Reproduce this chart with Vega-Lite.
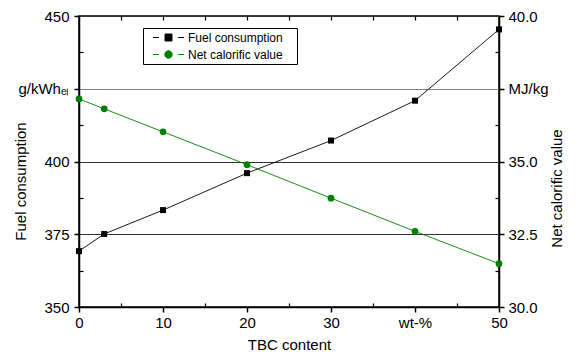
{
  "$schema": "https://vega.github.io/schema/vega-lite/v6.json",
  "width": 420,
  "height": 291,
  "autosize": {"type": "none"},
  "padding": {"left": 79, "top": 16, "right": 80, "bottom": 48},
  "background": "white",
  "config": {
    "view": {"stroke": "black", "strokeWidth": 1.5},
    "font": "Liberation Sans",
    "axis": {
      "labelFont": "Liberation Sans",
      "titleFont": "Liberation Sans",
      "labelFontSize": 15,
      "titleFontSize": 15,
      "titleFontWeight": "normal",
      "labelColor": "black",
      "titleColor": "black",
      "domainColor": "black",
      "domainWidth": 1.5,
      "tickColor": "black",
      "tickWidth": 1.5,
      "tickSize": 5,
      "labelFlush": false,
      "labelOverlap": false
    },
    "legend": {"labelFont": "Liberation Sans"}
  },
  "data": {
    "values": [
      {"tbc": 0, "series": "Fuel consumption", "value": 369.2},
      {"tbc": 3, "series": "Fuel consumption", "value": 375.1},
      {"tbc": 10, "series": "Fuel consumption", "value": 383.3},
      {"tbc": 20, "series": "Fuel consumption", "value": 396.0},
      {"tbc": 30, "series": "Fuel consumption", "value": 407.2},
      {"tbc": 40, "series": "Fuel consumption", "value": 420.9},
      {"tbc": 50, "series": "Fuel consumption", "value": 445.4},
      {"tbc": 0, "series": "Net calorific value", "value": 37.15},
      {"tbc": 3, "series": "Net calorific value", "value": 36.81},
      {"tbc": 10, "series": "Net calorific value", "value": 36.02},
      {"tbc": 20, "series": "Net calorific value", "value": 34.89},
      {"tbc": 30, "series": "Net calorific value", "value": 33.74},
      {"tbc": 40, "series": "Net calorific value", "value": 32.6},
      {"tbc": 50, "series": "Net calorific value", "value": 31.49}
    ]
  },
  "layer": [
    {
      "transform": [{"filter": "datum.series === 'Fuel consumption'"}],
      "encoding": {
        "x": {
          "field": "tbc",
          "type": "quantitative",
          "scale": {"domain": [0, 50], "nice": false, "zero": false},
          "axis": {
            "orient": "bottom",
            "title": "TBC content",
            "values": [0, 10, 20, 30, 40, 50],
            "labelExpr": "datum.value === 40 ? 'wt-%' : datum.label",
            "grid": false,
            "labelPadding": 3,
            "titlePadding": 7
          }
        },
        "y": {
          "field": "value",
          "type": "quantitative",
          "scale": {"domain": [350, 450], "nice": false, "zero": false},
          "axis": {
            "orient": "left",
            "title": "Fuel consumption",
            "values": [350, 375, 400, 425, 450],
            "labelExpr": "datum.value === 425 ? 'g/kWhₑₗ' : datum.label",
            "grid": true,
            "gridColor": {"condition": {"test": "datum.value === 425", "value": "#808080"}, "value": "#333333"},
            "gridWidth": 1,
            "labelPadding": 5,
            "titleX": -59,
            "titleY": 165,
            "titleAngle": 270,
            "titleBaseline": "middle",
            "titleAlign": "center"
          }
        },
        "color": {
          "field": "series",
          "type": "nominal",
          "scale": {"domain": ["Fuel consumption", "Net calorific value"], "range": ["black", "#008000"]},
          "legend": {
            "orient": "none",
            "legendX": 64,
            "legendY": 12,
            "title": "\u00a0",
            "titleOrient": "right",
            "titlePadding": 11,
            "titleFontSize": 4,
            "strokeColor": "black",
            "fillColor": "white",
            "padding": 3,
            "labelFontSize": 12,
            "labelColor": "black",
            "symbolSize": 144,
            "symbolOffset": 16,
            "rowPadding": 4,
            "labelOffset": 13,
            "encode": {
              "symbols": {
                "update": {
                  "shape": {"signal": "datum.value === 'Fuel consumption' ? 'M-2.6,0H-1.6M1.6,0H2.6M-0.58,-0.58H0.58V0.58H-0.58Z' : 'M-2.6,0H-1.6M1.6,0H2.6M-0.62,0A0.62,0.62 0 1,0 0.62,0A0.62,0.62 0 1,0 -0.62,0Z'"},
                  "stroke": {"signal": "datum.value === 'Fuel consumption' ? 'black' : '#008000'"},
                  "fill": {"signal": "datum.value === 'Fuel consumption' ? 'black' : '#008000'"},
                  "strokeWidth": {"value": 1},
                  "opacity": {"value": 1},
                  "fillOpacity": {"value": 1},
                  "strokeOpacity": {"value": 1}
                }
              }
            }
          }
        }
      },
      "layer": [
        {"mark": {"type": "line", "strokeWidth": 0.9}},
        {"mark": {"type": "point", "shape": "square", "filled": true, "size": 36, "opacity": 1}}
      ]
    },
    {
      "transform": [{"filter": "datum.series === 'Net calorific value'"}],
      "encoding": {
        "x": {
          "field": "tbc",
          "type": "quantitative",
          "scale": {"domain": [0, 50], "nice": false, "zero": false},
          "axis": null
        },
        "y": {
          "field": "value",
          "type": "quantitative",
          "scale": {"domain": [30, 40], "nice": false, "zero": false},
          "axis": {
            "orient": "right",
            "title": "Net calorific value",
            "values": [30, 32.5, 35, 37.5, 40],
            "labelExpr": "datum.value === 37.5 ? 'MJ/kg' : format(datum.value, '.1f')",
            "grid": false,
            "labelPadding": 4,
            "titleX": 57,
            "titleY": 172,
            "titleAngle": 270,
            "titleBaseline": "middle",
            "titleAlign": "center"
          }
        },
        "color": {"field": "series", "type": "nominal"}
      },
      "layer": [
        {"mark": {"type": "line", "strokeWidth": 0.9}},
        {"mark": {"type": "point", "shape": "circle", "filled": true, "size": 45, "opacity": 1}}
      ]
    },
    {
      "transform": [{"filter": "datum.series === 'Fuel consumption'"}],
      "mark": {"type": "point", "opacity": 0},
      "encoding": {
        "x": {
          "field": "tbc",
          "type": "quantitative",
          "scale": {"domain": [0, 50], "nice": false, "zero": false},
          "axis": {"orient": "bottom", "values": [5, 15, 25, 35, 45], "tickSize": -4, "tickWidth": 1.2, "labels": false, "domain": false, "title": null, "grid": false}
        },
        "y": {
          "field": "value",
          "type": "quantitative",
          "scale": {"domain": [350, 450], "nice": false, "zero": false},
          "axis": {"orient": "left", "values": [362.5, 387.5, 412.5, 437.5], "tickSize": -4, "tickWidth": 1.2, "labels": false, "domain": false, "title": null, "grid": false}
        }
      }
    },
    {
      "transform": [{"filter": "datum.series === 'Net calorific value'"}],
      "mark": {"type": "point", "opacity": 0},
      "encoding": {
        "x": {
          "field": "tbc",
          "type": "quantitative",
          "scale": {"domain": [0, 50], "nice": false, "zero": false},
          "axis": {"orient": "top", "values": [5, 10, 15, 20, 25, 30, 35, 40, 45], "tickSize": -4, "tickWidth": 1.2, "labels": false, "domain": false, "title": null, "grid": false}
        },
        "y": {
          "field": "value",
          "type": "quantitative",
          "scale": {"domain": [30, 40], "nice": false, "zero": false},
          "axis": {"orient": "right", "values": [31.25, 33.75, 36.25, 38.75], "tickSize": -4, "tickWidth": 1.2, "labels": false, "domain": false, "title": null, "grid": false}
        }
      }
    }
  ],
  "resolve": {"scale": {"y": "independent"}, "axis": {"y": "independent", "x": "independent"}}
}
